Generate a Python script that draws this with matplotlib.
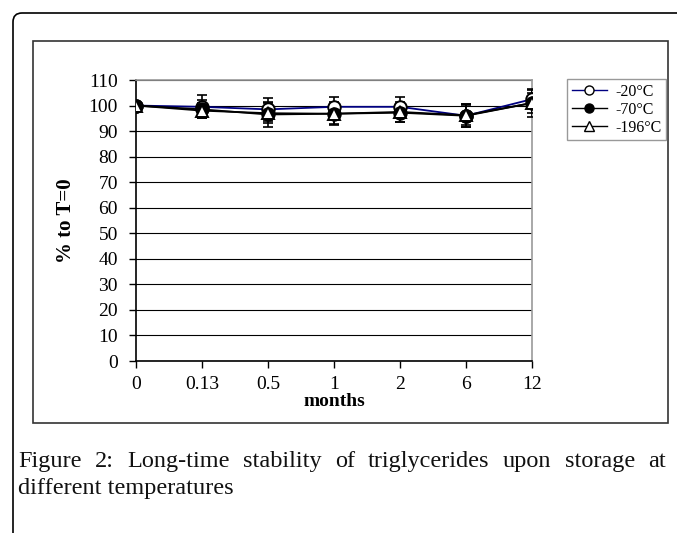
import matplotlib
matplotlib.use("Agg")
import matplotlib.pyplot as plt
from matplotlib.patches import FancyBboxPatch, Rectangle
from matplotlib.transforms import IdentityTransform
from matplotlib.lines import Line2D

months = ['0', '0.13', '0.5', '1', '2', '6', '12']
m20 = [100, 99.5, 98.5, 99.5, 99.5, 96.0, 102.5]
m70 = [100, 98.5, 96.5, 96.8, 97.2, 96.0, 101.0]
m196 = [100, 98.0, 97.0, 96.8, 97.5, 96.2, 101.0]
err20 = [0, 4.5, 4.5, 4.0, 4.0, 4.5, 3.5]
err70 = [0, 3.5, 5.0, 4.0, 3.5, 4.5, 4.0]
err196 = [0, 3.0, 4.0, 4.5, 4.0, 4.0, 5.5]

W, H = 677, 533
fig = plt.figure(figsize=(W / 100, H / 100), dpi=100)
plt.rcParams['font.family'] = ['Liberation Serif', 'DejaVu Serif']

# outer rounded page frame (pixel coords)
outer = FancyBboxPatch((13, -60), 900, H - 13 + 60,
                       boxstyle="round,pad=0,rounding_size=9",
                       fill=False, edgecolor='black', linewidth=1.2,
                       transform=IdentityTransform())
fig.add_artist(outer)
# inner chart frame
inner = Rectangle((33, H - 423), 668 - 33, 423 - 41, fill=False,
                  edgecolor='#333333', linewidth=1.2,
                  transform=IdentityTransform())
fig.add_artist(inner)

L, R, T, B = 136, 532, 80, 361
ax = fig.add_axes([L / W, 1 - B / H, (R - L) / W, (B - T) / H])

x = list(range(len(months)))
series = [
    (m20, err20, 'o', 'white', '#000080', '-20°C'),
    (m70, err70, 'o', 'black', 'black', '-70°C'),
    (m196, err196, '^', 'white', 'black', '-196°C'),
]
for vals, errs, mk, face, lc, lab in series:
    ax.errorbar(x, vals, yerr=errs, fmt='none', ecolor='black',
                elinewidth=1.2, capsize=3.5, capthick=1.2, zorder=3)
for vals, errs, mk, face, lc, lab in series:
    ax.plot(x, vals, color=lc, linewidth=1.3, zorder=4)
for vals, errs, mk, face, lc, lab in series:
    ax.plot(x, vals, linestyle='none', marker=mk, markersize=9,
            markerfacecolor=face, markeredgecolor='black',
            markeredgewidth=1.4, zorder=5)

ax.set_xlim(0, 6)
ax.set_ylim(0, 110)
ax.set_xticks(x)
ax.set_xticklabels(months)
ax.set_yticks(range(0, 111, 10))
ax.yaxis.grid(True, color='black', linewidth=0.8)
ax.set_axisbelow(True)
ax.tick_params(direction='out', length=5, width=1, labelsize=14,
               colors='black')
ax.tick_params(axis='y', pad=8)
ax.tick_params(axis='x', pad=6)
ax.spines['left'].set_color('black')
ax.spines['bottom'].set_color('black')
ax.spines['top'].set_color('#999999')
ax.spines['right'].set_color('#999999')
for s in ax.spines.values():
    s.set_linewidth(1.2)

ax.set_ylabel('% to T=0', fontsize=15, fontweight='bold', labelpad=9)
ax.set_xlabel('months', fontsize=14, fontweight='bold', labelpad=0)

handles = [
    Line2D([], [], color='#000080', lw=1, marker='o', markersize=6.5,
           markerfacecolor='white', markeredgecolor='black'),
    Line2D([], [], color='black', lw=1, marker='o', markersize=6.5,
           markerfacecolor='black', markeredgecolor='black'),
    Line2D([], [], color='black', lw=1, marker='^', markersize=6.5,
           markerfacecolor='white', markeredgecolor='black'),
]
fig.legend(handles, ['-20°C', '-70°C', '-196°C'],
           loc='upper right', bbox_to_anchor=(666 / W, 1 - 79 / H),
           fontsize=11.5, frameon=True, fancybox=False, edgecolor='#808080',
           handlelength=2.2, handletextpad=0.5, borderpad=0.3,
           labelspacing=0.12, borderaxespad=0)

# caption, first line justified
cap_font = dict(fontsize=17.5, color='#111111')
line1 = "Figure 2: Long-time stability of triglycerides upon storage at".split()
x0, x1 = 18, 666
fig.canvas.draw()
rend = fig.canvas.get_renderer()
texts = [fig.text(0, 1 - 467 / H, w, va='baseline', ha='left', **cap_font)
         for w in line1]
widths = [t.get_window_extent(rend).width for t in texts]
gap = (x1 - x0 - sum(widths)) / (len(line1) - 1)
pos = x0
for t, wd in zip(texts, widths):
    t.set_x(pos / W)
    pos += wd + gap
fig.text(x0 / W, 1 - 494 / H, "different temperatures", va='baseline',
         ha='left', **cap_font)

fig.savefig('out.png', dpi=100)
